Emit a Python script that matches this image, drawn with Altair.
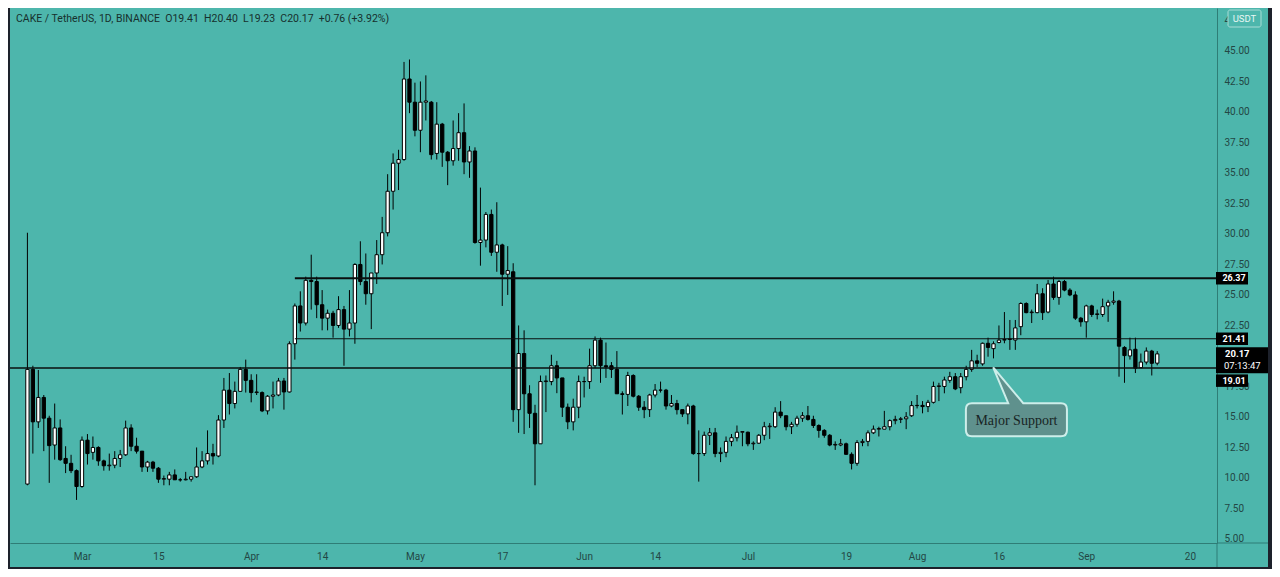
import altair as alt
import pandas as pd

# ---------------- data ----------------
first_date = "2021-02-19"

opens = [
    9.5, 18.9, 14.6, 16.6, 14.9, 12.7, 14.1, 11.6, 11.2, 10.6,
    9.3, 13.1, 12.1, 12.5, 11.4, 11.0, 11.05, 11.6, 11.9, 14.1,
    12.6, 12.2, 10.9, 11.3, 10.8, 9.9, 9.9, 10.25, 9.85, 9.85,
    9.9, 10.1, 10.9, 11.4, 12.0, 11.8, 14.75, 17.2, 16.1, 17.1,
    18.9, 18.0, 17.0, 17.0, 15.5, 16.7, 16.8, 17.95, 17.05, 21.0,
    24.1, 22.7, 26.2, 26.1, 24.2, 23.1, 23.5, 22.5, 23.8, 22.2,
    22.7, 27.5, 26.1, 25.1, 26.8, 28.3, 30.1, 33.5, 35.8, 36.1,
    42.7, 40.8, 38.5, 40.8, 40.8, 36.6, 39.0, 36.7, 36.0, 37.0,
    38.3, 35.9, 36.8, 29.3, 29.5, 31.6, 28.5, 29.1, 26.7, 26.9,
    15.6, 20.2, 16.9, 15.3, 12.8, 17.9, 17.9, 19.2, 18.2, 15.8,
    14.6, 15.8, 17.9, 17.9, 19.2, 21.3, 19.2, 19.2, 18.9, 16.9,
    16.85, 18.4, 16.7, 15.8, 15.6, 16.8, 17.2, 17.2, 15.9, 16.1,
    15.6, 15.25, 15.9, 12.0, 12.0, 13.5, 13.7, 12.0, 12.1, 13.0,
    13.3, 13.75, 13.75, 12.8, 12.85, 13.5, 14.2, 14.2, 15.4, 15.1,
    14.2, 14.4, 14.9, 15.1, 14.8, 14.3, 13.9, 13.5, 12.7, 12.7,
    12.8, 11.94, 11.2, 12.9, 13.0, 13.7, 14.0, 14.0, 14.2, 14.7,
    14.8, 14.85, 15.1, 15.93, 15.95, 15.85, 16.2, 17.5, 17.5, 18.0,
    18.3, 17.4, 18.3, 18.9, 19.6, 19.35, 21.04, 20.6, 21.1, 21.3,
    21.35, 21.3, 22.4, 24.3, 23.55, 23.55, 25.1, 23.6, 25.9, 24.8,
    26.1, 25.4, 25.0, 23.1, 22.8, 24.1, 23.4, 23.4, 24.1, 24.4,
    24.5, 20.7, 20.0, 20.55, 19.04, 19.5, 20.4, 19.41,
]

highs = [
    30.1, 19.2, 18.85, 16.8, 15.1, 16.1, 14.8, 12.6, 11.9, 10.7,
    13.4, 13.6, 13.4, 12.6, 11.5, 12.0, 12.2, 12.3, 14.7, 14.4,
    13.3, 12.2, 11.4, 11.4, 10.9, 10.2, 10.5, 10.7, 10.0, 10.5,
    10.1, 12.5, 12.2, 13.9, 12.8, 15.15, 18.2, 18.6, 17.9, 19.1,
    19.7, 18.5, 18.5, 17.1, 16.8, 17.9, 18.2, 18.2, 21.2, 24.3,
    25.3, 26.5, 28.3, 26.5, 25.4, 23.8, 23.7, 24.9, 24.1, 25.4,
    27.6, 29.4, 28.4, 26.8, 29.5, 31.4, 34.9, 36.6, 36.9, 44.1,
    44.3, 42.4, 42.5, 43.0, 40.9, 40.8, 39.1, 36.8, 39.3, 39.9,
    40.7, 37.2, 37.1, 33.8, 31.8, 32.0, 32.6, 29.2, 29.0, 27.6,
    22.5, 22.1, 17.6, 16.0, 18.4, 18.4, 20.1, 19.6, 18.2, 16.1,
    16.5, 18.4, 18.3, 20.6, 21.6, 21.5, 21.1, 19.5, 20.4, 17.1,
    18.7, 18.5, 16.8, 16.3, 16.9, 17.7, 17.9, 17.3, 16.8, 16.4,
    15.6, 16.1, 16.0, 13.9, 13.8, 14.1, 14.1, 12.5, 13.4, 13.6,
    14.3, 13.8, 13.8, 13.0, 13.6, 14.6, 14.5, 15.8, 16.3, 15.1,
    14.6, 15.1, 15.4, 15.9, 15.1, 14.4, 14.0, 13.6, 13.0, 13.2,
    12.9, 12.1, 13.1, 13.2, 13.9, 14.3, 14.2, 15.5, 14.8, 15.1,
    15.0, 15.4, 16.3, 16.8, 16.3, 16.4, 17.9, 17.8, 18.3, 18.7,
    18.6, 18.6, 19.2, 20.5, 20.1, 21.1, 21.5, 21.2, 22.5, 23.6,
    22.95, 22.95, 24.4, 24.4, 23.8, 25.9, 25.55, 26.23, 26.5, 26.23,
    26.23, 25.55, 25.3, 23.2, 24.2, 24.2, 23.8, 24.7, 24.6, 25.3,
    24.6, 20.8, 21.5, 21.5, 20.2, 20.7, 20.5, 20.40,
]

lows = [
    9.4, 12.0, 14.1, 12.2, 9.6, 11.5, 11.4, 10.4, 10.4, 8.2,
    9.2, 11.1, 11.5, 11.0, 10.6, 10.6, 10.8, 10.9, 11.8, 12.2,
    12.0, 10.5, 10.5, 10.5, 9.6, 9.4, 9.4, 9.85, 9.7, 9.8,
    9.7, 10.0, 10.8, 11.1, 11.1, 11.7, 14.1, 15.2, 15.7, 17.1,
    17.0, 16.2, 16.8, 15.4, 15.2, 15.7, 16.7, 15.6, 17.0, 19.7,
    22.0, 22.5, 23.8, 23.1, 22.1, 22.1, 21.5, 22.3, 19.2, 21.6,
    21.0, 25.8, 24.2, 22.2, 25.9, 27.5, 29.8, 32.0, 33.6, 36.0,
    39.9, 38.0, 36.7, 39.3, 36.1, 36.1, 35.5, 34.0, 35.6, 36.0,
    34.9, 34.6, 29.2, 27.4, 28.9, 28.2, 26.9, 24.1, 25.0, 14.6,
    13.7, 13.6, 14.1, 9.4, 12.8, 15.4, 17.6, 16.95, 15.0, 14.0,
    13.9, 14.9, 16.6, 17.3, 19.0, 17.8, 18.2, 18.2, 16.9, 15.2,
    15.9, 16.6, 15.5, 14.9, 15.0, 16.6, 17.0, 15.6, 15.8, 15.2,
    15.0, 14.4, 11.9, 9.7, 11.8, 12.7, 11.7, 11.3, 11.7, 12.6,
    13.0, 12.6, 12.6, 12.3, 12.8, 13.1, 13.2, 14.1, 14.9, 13.9,
    13.6, 14.2, 14.6, 14.7, 14.1, 13.3, 13.3, 12.6, 12.3, 12.6,
    11.9, 10.7, 11.0, 12.6, 12.6, 13.6, 13.4, 14.0, 13.9, 14.4,
    14.5, 14.0, 15.0, 15.7, 15.3, 15.4, 16.1, 16.3, 16.94, 17.8,
    17.2, 16.94, 18.0, 18.7, 19.1, 19.2, 19.94, 19.8, 21.04, 21.04,
    20.5, 20.5, 21.7, 23.5, 22.7, 23.5, 22.95, 23.5, 24.6, 24.2,
    25.3, 24.9, 22.95, 22.4, 21.5, 23.2, 23.0, 23.2, 22.8, 24.2,
    18.3, 17.8, 19.7, 18.6, 19.0, 19.3, 18.4, 19.23,
]

closes = [
    18.9, 14.6, 16.6, 14.9, 12.65, 14.1, 11.5, 11.2, 10.6, 9.3,
    13.1, 12.0, 12.5, 11.4, 11.0, 11.05, 11.6, 11.9, 14.1, 12.6,
    12.2, 10.9, 11.3, 10.8, 9.9, 9.95, 10.25, 9.85, 9.85, 9.9,
    10.1, 10.9, 11.4, 12.0, 11.8, 14.75, 17.2, 16.1, 17.1, 18.9,
    18.0, 17.0, 17.05, 15.5, 16.7, 16.8, 17.95, 17.05, 21.0, 24.1,
    22.7, 26.2, 26.1, 24.2, 23.1, 23.5, 22.5, 23.8, 22.2, 22.7,
    27.5, 26.1, 25.1, 26.8, 28.3, 30.1, 33.5, 35.8, 36.1, 42.7,
    40.8, 38.5, 40.8, 40.9, 36.5, 39.0, 36.7, 36.0, 37.0, 38.3,
    35.9, 36.8, 29.3, 29.5, 31.6, 28.5, 29.1, 26.7, 27.0, 15.6,
    20.2, 16.9, 15.3, 12.8, 17.9, 17.95, 19.2, 18.2, 15.8, 14.6,
    15.8, 17.9, 17.9, 19.2, 21.3, 19.2, 19.1, 18.9, 16.9, 16.85,
    18.4, 16.7, 15.8, 15.6, 16.8, 17.2, 17.2, 15.9, 16.1, 15.6,
    15.25, 15.9, 12.0, 12.0, 13.5, 13.7, 12.0, 12.1, 13.0, 13.3,
    13.75, 13.8, 12.8, 12.85, 13.5, 14.2, 14.25, 15.4, 15.1, 14.2,
    14.4, 14.9, 15.1, 14.8, 14.3, 13.9, 13.5, 12.7, 12.75, 12.8,
    11.94, 11.2, 12.9, 13.0, 13.7, 14.0, 14.05, 14.2, 14.7, 14.8,
    14.85, 15.0, 15.93, 15.95, 15.85, 16.2, 17.5, 17.55, 18.03, 18.3,
    17.3, 18.3, 18.9, 19.6, 19.4, 21.04, 20.7, 21.0, 21.3, 21.35,
    21.4, 22.3, 24.3, 23.55, 23.6, 25.1, 23.55, 25.9, 24.8, 26.1,
    25.4, 25.0, 23.1, 22.8, 24.1, 23.4, 23.45, 24.04, 24.4, 24.5,
    20.8, 20.03, 20.5, 19.0, 19.5, 20.4, 19.4, 20.17,
]

tick_dates = ["2021-03-01", "2021-03-15", "2021-04-01", "2021-04-14", "2021-05-01",
              "2021-05-17", "2021-06-01", "2021-06-14", "2021-07-01", "2021-07-19",
              "2021-08-01", "2021-08-16", "2021-09-01", "2021-09-20"]
tick_labels = ["Mar", "15", "Apr", "14", "May", "17", "Jun", "14", "Jul", "19",
               "Aug", "16", "Sep", "20"]
# 20.00 sits fully under the live-price tag in the reference, so it is not listed
price_ticks = [5.0, 7.5, 10.0, 12.5, 15.0, 17.5, 22.5, 25.0, 27.5,
               30.0, 32.5, 35.0, 37.5, 40.0, 42.5, 45.0, 47.5]

levels = [26.37, 21.41, 19.01]
level_start_dates = ["2021-04-09", "2021-04-09", None]
last_close = 20.17
countdown = "07:13:47"
header = ("CAKE / TetherUS, 1D, BINANCE\u00a0\u00a0O19.41\u00a0\u00a0H20.40\u00a0\u00a0L19.23"
          "\u00a0\u00a0C20.17\u00a0\u00a0+0.76 (+3.92%)")
note_text = "Major Support"
note_date = "2021-08-19"
note_price = 14.78

# ---------------- styling ----------------
TEAL = "#4db6ac"
DARK = "#1d212b"
AXIS_TXT = "#234744"
SEP = "#2f7d76"
X_MIN, X_MAX = -13.19, 207.95
Y_MIN, Y_MAX = 4.67, 48.52
PW, PH = 1207, 535
TOTAL_W, TOTAL_H = 1264, 561
line_widths = [2, 1, 1.5]
tag_offsets = [0, 0, 12.6]   # the 19.01 tag is pushed below the live-price tag

ref = pd.Timestamp("2021-03-01")
dates = pd.date_range(first_date, periods=len(closes), freq="D")
df = pd.DataFrame({
    "day": (dates - ref).days,
    "open": opens, "high": highs, "low": lows, "close": closes,
})
df["up"] = df["close"] >= df["open"]

tick_days = [(pd.Timestamp(d) - ref).days for d in tick_dates]
label_expr = " : ".join(f"datum.value == {d} ? '{l}'" for d, l in zip(tick_days, tick_labels)) + " : ''"

xs = alt.Scale(domain=[X_MIN, X_MAX], nice=False, zero=False)
ys = alt.Scale(domain=[Y_MIN, Y_MAX], nice=False, zero=False)

x_axis = alt.Axis(values=tick_days, labelExpr=label_expr, tickSize=0, grid=False,
                  domainColor=SEP, labelColor=AXIS_TXT, labelFontSize=10,
                  labelFont="Roboto", labelPadding=8, labelFlush=False, title=None)
y_axis = alt.Axis(orient="right", values=price_ticks, format=".2f", tickSize=0,
                  grid=False, domainColor=SEP, labelColor=AXIS_TXT, labelFontSize=10,
                  labelFont="Roboto", labelPadding=7, labelFlush=False, title=None)


def X(field):
    return alt.X(field, type="quantitative", scale=xs, axis=x_axis)


def Y(field):
    return alt.Y(field, type="quantitative", scale=ys, axis=y_axis)


base = alt.Chart(df)

wicks = base.mark_rule(color="#000000", strokeWidth=1).encode(
    x=X("day"), y=Y("low"), y2="high:Q",
)

bodies = base.transform_calculate(
    x0="datum.day - 0.3", x1="datum.day + 0.3"
).mark_rect(stroke="#000000", strokeWidth=1).encode(
    x=X("x0"), x2="x1:Q",
    y=Y("open"), y2="close:Q",
    fill=alt.condition("datum.up", alt.value("#ffffff"), alt.value("#000000")),
)

layers = [wicks, bodies]

for lv, sd, w in zip(levels, level_start_dates, line_widths):
    start_day = X_MIN if sd is None else (pd.Timestamp(sd) - ref).days
    ldf = pd.DataFrame({"x0": [start_day], "x1": [X_MAX], "y": [lv]})
    layers.append(
        alt.Chart(ldf).mark_rule(color="#0a0f0f", strokeWidth=w).encode(
            x=X("x0"), x2="x1:Q", y=Y("y"))
    )

# callout
note_df = pd.DataFrame({"day": [(pd.Timestamp(note_date) - ref).days + 0.2],
                        "price": [note_price], "t": [note_text]})
callout_path = ("M-0.742,-0.275 L-0.137,-0.275 L-0.387,-0.873 L0.113,-0.275 L0.742,-0.275 "
                "Q0.842,-0.275 0.842,-0.175 L0.842,0.175 Q0.842,0.275 0.742,0.275 "
                "L-0.742,0.275 Q-0.842,0.275 -0.842,0.175 L-0.842,-0.175 "
                "Q-0.842,-0.275 -0.742,-0.275 Z")
layers.append(
    alt.Chart(note_df).mark_point(shape=callout_path, filled=True, fill="#5f918d",
                                  stroke="#cdeeea", strokeWidth=2, opacity=1,
                                  size=14400).encode(x=X("day"), y=Y("price"))
)
layers.append(
    alt.Chart(note_df).mark_text(font="Liberation Serif", fontSize=14, color="#182424",
                                 align="center", baseline="middle", dy=1).encode(
        x=X("day"), y=Y("price"), text="t:N")
)

# extra separator pieces across the axis bands
sep_df = pd.DataFrame({"a": [0]})
layers.append(alt.Chart(sep_df).mark_rule(color=SEP, strokeWidth=1).encode(
    x=alt.value(PW), x2=alt.value(1258), y=alt.value(PH)))
layers.append(alt.Chart(sep_df).mark_rule(color=SEP, strokeWidth=1).encode(
    x=alt.value(PW), y=alt.value(PH), y2=alt.value(559)))

# live-price tag (box 52 x 26 px, left edge at the axis line)
cur_df = pd.DataFrame({"y": [last_close], "t": [f"{last_close:.2f}"], "c": [countdown]})
cur_path = "M-1,-0.5 L1,-0.5 L1,0.5 L-1,0.5 Z"
layers.append(alt.Chart(cur_df).mark_point(shape=cur_path, filled=True, fill="#000000",
                                            strokeWidth=0, opacity=1, size=2704,
                                            yOffset=6.4).encode(
    x=alt.value(PW - 1 + 26), y=Y("y")))
layers.append(alt.Chart(cur_df).mark_text(color="#ffffff", fontSize=9.5, fontWeight="bold",
                                           font="Roboto", align="left", baseline="middle",
                                           dy=0.4).encode(
    x=alt.value(PW + 8), y=Y("y"), text="t:N"))
layers.append(alt.Chart(cur_df).mark_text(color="#ffffff", fontSize=9.5,
                                           font="Roboto", align="left", baseline="middle",
                                           dy=12).encode(
    x=alt.value(PW + 7), y=Y("y"), text="c:N"))

# level price tags (box 32 x 12.5 px, left edge at the axis line)
tag_path = "M-1,-0.39 L1,-0.39 L1,0.39 L-1,0.39 Z"
for lv, off in zip(levels, tag_offsets):
    tdf = pd.DataFrame({"y": [lv], "t": [f"{lv:.2f}"]})
    layers.append(alt.Chart(tdf).mark_point(shape=tag_path, filled=True, fill="#000000",
                                             strokeWidth=0, opacity=1, size=1024,
                                             yOffset=off).encode(
        x=alt.value(PW - 1 + 16), y=Y("y")))
    layers.append(alt.Chart(tdf).mark_text(color="#ffffff", fontSize=9, fontWeight="bold",
                                            font="Roboto", align="center", baseline="middle",
                                            dy=off).encode(
        x=alt.value(PW + 17), y=Y("y"), text="t:N"))

# header legend
hdr_df = pd.DataFrame({"t": [header]})
layers.append(alt.Chart(hdr_df).mark_text(color="#17302d", fontSize=10.5, font="Roboto",
                                           align="left", baseline="middle").encode(
    x=alt.value(6), y=alt.value(11), text="t:N"))

# currency badge
layers.append(alt.Chart(sep_df).mark_rect(fill=TEAL, stroke="#a9dcd6", strokeWidth=1,
                                           cornerRadius=2).encode(
    x=alt.value(1218), x2=alt.value(1251), y=alt.value(2), y2=alt.value(19)))
usd_df = pd.DataFrame({"t": ["USDT"]})
layers.append(alt.Chart(usd_df).mark_text(color="#e8f6f4", fontSize=9.5, font="Roboto",
                                           align="center", baseline="middle").encode(
    x=alt.value(1234.5), y=alt.value(11), text="t:N"))

# dark frame strips
for x0, x1, y0, y1 in [(-10, 0, -10, 600), (1258, 1300, -10, 600), (-10, 1300, 559, 600)]:
    layers.append(alt.Chart(sep_df).mark_rect(fill=DARK).encode(
        x=alt.value(x0), x2=alt.value(x1), y=alt.value(y0), y2=alt.value(y1)))

chart = alt.layer(*layers).properties(
    width=PW, height=PH,
    padding={"left": 2, "top": 0, "right": TOTAL_W - 2 - PW, "bottom": TOTAL_H - PH},
    autosize=alt.AutoSizeParams(type="none"),
).configure(background=TEAL).configure_view(stroke=None)

chart.save("out.html", embed_options={"renderer": "svg", "actions": False})
